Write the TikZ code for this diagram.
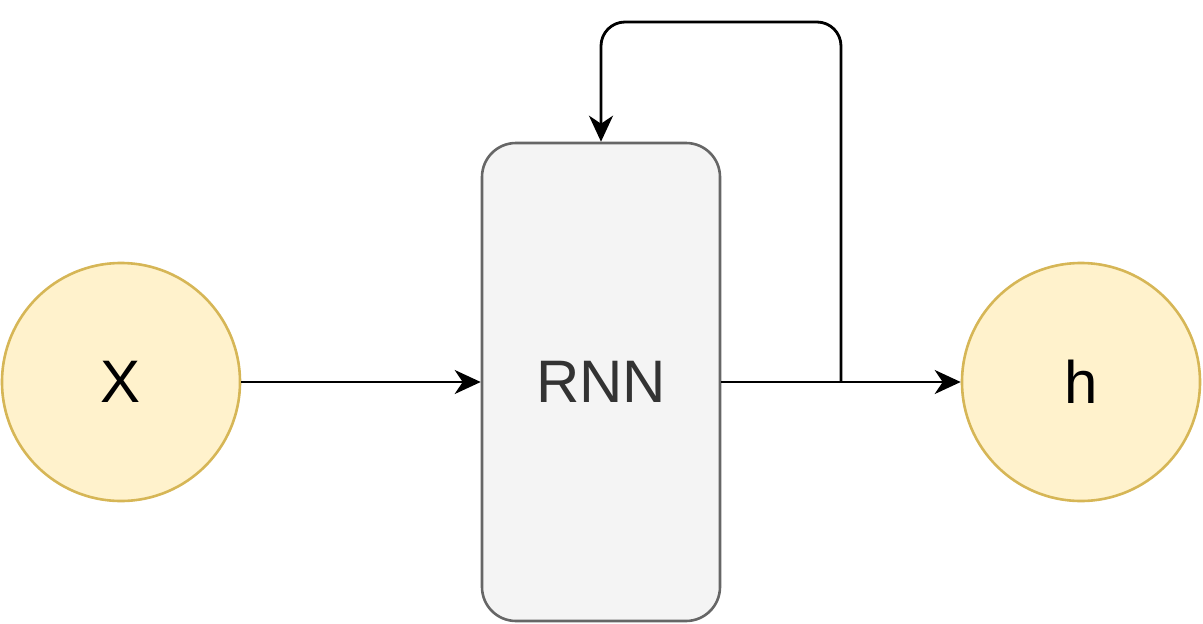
\documentclass[tikz,border=0pt]{standalone}
\usepackage{fontspec}
\setmainfont{Liberation Sans}
\usetikzlibrary{arrows.meta}
\definecolor{yfill}{HTML}{FFF2CC}
\definecolor{ydraw}{HTML}{D6B656}
\definecolor{gfill}{HTML}{F4F4F4}
\definecolor{gdraw}{HTML}{666666}
\definecolor{gtext}{HTML}{333333}
\tikzset{
  circ/.style={circle, draw=ydraw, fill=yfill, line width=2.6pt, minimum size=238pt, inner sep=0pt, font=\fontsize{60}{62}\selectfont},
  box/.style={rectangle, rounded corners=34pt, draw=gdraw, fill=gfill, line width=2.6pt, minimum width=238pt, minimum height=478pt, inner sep=0pt, text=gtext, font=\fontsize{60}{62}\selectfont},
  conn/.style={line width=2.8pt, -{Stealth[length=26pt,width=24pt,inset=8pt]}},
}
\begin{document}
\begin{tikzpicture}[x=1pt,y=-1pt]
\useasboundingbox (0,0) rectangle (1203,624);
\node[circ] (x) at (121,382) {X};
\node[box] (rnn) at (601,382) {RNN};
\node[circ] (h) at (1081,382) {h};
\coordinate (split) at (841,382);
\draw[conn] (x) -- (rnn);
\draw[conn] (rnn) -- (h);
\draw[conn, rounded corners=24pt] (split) -- (841,22) -- (601,22) -- (rnn.north);
\end{tikzpicture}
\end{document}
